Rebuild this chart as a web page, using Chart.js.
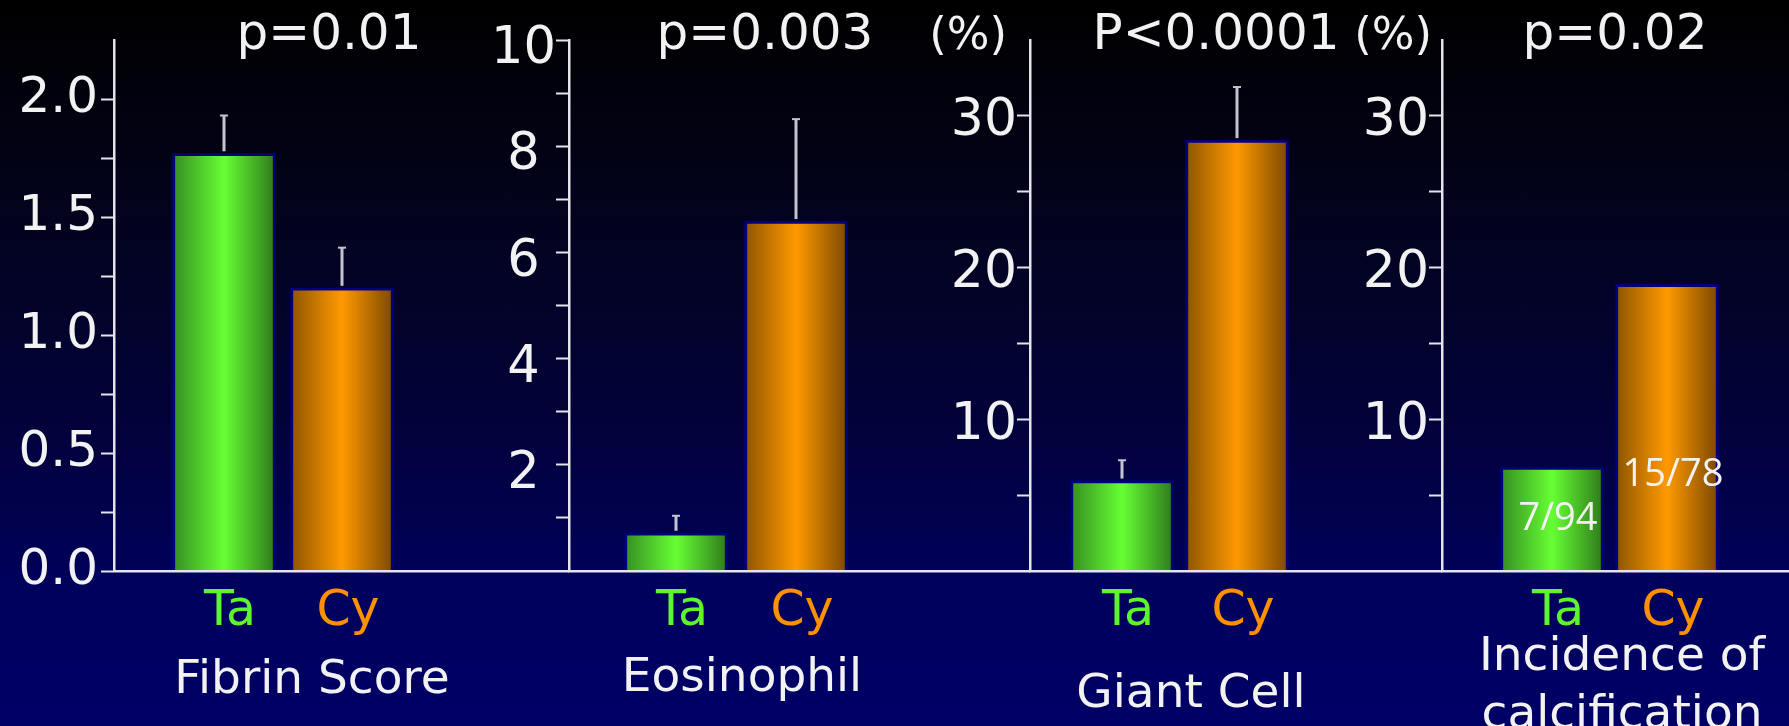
<!DOCTYPE html>
<html>
<head>
<meta charset="utf-8">
<script src="https://cdn.jsdelivr.net/npm/chart.js@4/dist/chart.umd.min.js"></script>
<style>
  html, body { margin: 0; padding: 0; }
  body {
    width: 1789px; height: 726px; overflow: hidden; position: relative;
    background: linear-gradient(180deg, #000000 0px, #010108 60px, #03031c 200px, #020236 400px, #000058 570px, #00005c 572px, #000066 726px);
  }
  .panel { position: absolute; top: 0; height: 726px; }
</style>
</head>
<body>
<div class="panel" id="p0"><canvas id="c0"></canvas></div>
<div class="panel" id="p1"><canvas id="c1"></canvas></div>
<div class="panel" id="p2"><canvas id="c2"></canvas></div>
<div class="panel" id="p3"><canvas id="c3"></canvas></div>
<script>
// data
const categories = ['Ta', 'Cy'];
const pValues = ['p=0.01', 'p=0.003', 'P<0.0001', 'p=0.02'];
const panelNames = [['Fibrin Score'], ['Eosinophil'], ['Giant Cell'], ['Incidence of', 'calcification']];

const fibrinValues = [1.77, 1.20];
const fibrinErrors = [1.93, 1.37];
const eosinophilValues = [0.72, 6.59];
const eosinophilErrors = [1.04, 8.51];
const giantCellValues = [5.96, 28.4];
const giantCellErrors = [7.3, 31.9];
const calcificationValues = [6.85, 18.9];
const calcificationCounts = ['7/94', '15/78'];

const fibrinTicks = [0, 0.25, 0.5, 0.75, 1.0, 1.25, 1.5, 1.75, 2.0];
const fibrinTickLabels = ['0.0', '', '0.5', '', '1.0', '', '1.5', '', '2.0'];
const eosinophilTicks = [1, 2, 3, 4, 5, 6, 7, 8, 9, 10];
const eosinophilTickLabels = ['', '2', '', '4', '', '6', '', '8', '', '10'];
const percentTicks = [5, 10, 15, 20, 25, 30];
const percentTickLabels = ['', '10', '', '20', '', '30'];
const axisMax = [2.25, 10, 35, 35];
const units = ['', '', '(%)', '(%)'];

const panelValues = [fibrinValues, eosinophilValues, giantCellValues, calcificationValues];
const panelErrors = [fibrinErrors, eosinophilErrors, giantCellErrors, null];
const panelCounts = [null, null, null, calcificationCounts];
const panelTicks = [fibrinTicks, eosinophilTicks, percentTicks, percentTicks];
const panelTickLabels = [fibrinTickLabels, eosinophilTickLabels, percentTickLabels, percentTickLabels];

// layout (pixels)
const axisX = [114, 569, 1030, 1442];
const axisRight = [569, 1030, 1442, 1789];
const labelRoom = [114, 110, 100, 100];
const firstBarOffset = [110, 107, 92, 110];
const barSpacing = [118, 120, 115, 115];
const tickFontSize = [50, 51, 52, 52];
const tickPadding = [3, 0, 0, 0];
const tickLabelOffset = [0, 10, 6, 6];
const tickAlign = ['near', 'center', 'near', 'near'];
const pOffset = [215, 196, 186, 173];
const captionOffset = [198, 173, 161, 180];
const captionBaseline = [693, 691, 707, 670];
const unitGap = [0, 0, 23, 10];
const countLift = [52, 96];

const WHITE = '#f2f2f2';
const AXIS = '#e4e4ea';
const FONT = "'DejaVu Sans', Verdana, sans-serif";
const GREEN = ['#358c22', '#66ff33', '#2e781b'];
const ORANGE = ['#8c5400', '#ff9900', '#7a4700'];
const labelColors = ['#5cf52e', '#ff9000'];

function barFill(c) {
    const chart = c.chart;
    const stops = c.dataIndex === 0 ? GREEN : ORANGE;
    if (!chart.chartArea) return stops[1];
    const x = chart.scales.x.getPixelForValue(c.dataIndex);
    const g = chart.ctx.createLinearGradient(x - 52, 0, x + 52, 0);
    g.addColorStop(0, stops[0]);
    g.addColorStop(0.5, stops[1]);
    g.addColorStop(1, stops[2]);
    return g;
}

function overlay(i) {
    return {
        id: 'overlay' + i,
        afterDatasetsDraw(chart) {
            const ctx = chart.ctx;
            const meta = chart.getDatasetMeta(0);
            const y = chart.scales.y;
            const errs = panelErrors[i];
            ctx.save();
            if (errs) {
                ctx.strokeStyle = '#c4c4d0';
                errs.forEach((e, k) => {
                    const bar = meta.data[k];
                    const yErr = y.getPixelForValue(e);
                    ctx.lineWidth = 3;
                    ctx.beginPath();
                    ctx.moveTo(bar.x, bar.y - 2);
                    ctx.lineTo(bar.x, yErr);
                    ctx.stroke();
                    ctx.lineWidth = 2;
                    ctx.beginPath();
                    ctx.moveTo(bar.x - 4, yErr);
                    ctx.lineTo(bar.x + 4, yErr);
                    ctx.stroke();
                });
            }
            const counts = panelCounts[i];
            if (counts) {
                ctx.fillStyle = WHITE;
                ctx.font = "38px 'Open Sans', sans-serif";
                ctx.textAlign = 'center';
                ctx.textBaseline = 'middle';
                counts.forEach((t, k) => {
                    const bar = meta.data[k];
                    ctx.fillText(t, bar.x + 6, chart.chartArea.bottom - countLift[k]);
                });
            }
            ctx.restore();
        },
        afterDraw(chart) {
            const ctx = chart.ctx;
            const left = chart.chartArea.left;
            ctx.save();
            ctx.fillStyle = WHITE;
            ctx.textBaseline = 'alphabetic';
            ctx.textAlign = 'center';
            ctx.font = '50px ' + FONT;
            ctx.fillText(pValues[i], left + pOffset[i], 49);
            if (units[i]) {
                ctx.textAlign = 'right';
                ctx.font = '45px ' + FONT;
                ctx.fillText(units[i], left - unitGap[i], 49);
            }
            ctx.textAlign = 'center';
            ctx.font = '47px ' + FONT;
            panelNames[i].forEach((line, k) => {
                ctx.fillText(line, left + captionOffset[i], captionBaseline[i] + k * 58);
            });
            ctx.restore();
        }
    };
}

function makePanel(i) {
    const wrap = document.getElementById('p' + i);
    const canvasLeft = axisX[i] - labelRoom[i];
    wrap.style.left = canvasLeft + 'px';
    wrap.style.width = (axisRight[i] - canvasLeft) + 'px';
    const plotWidth = axisRight[i] - axisX[i];
    const values = panelValues[i];

    new Chart(document.getElementById('c' + i), {
        type: 'bar',
        data: {
            datasets: [{
                data: values.map((v, k) => ({ x: k, y: v })),
                backgroundColor: barFill,
                borderColor: '#00007a',
                borderWidth: 3,
                barThickness: 103
            }]
        },
        options: {
            responsive: true,
            maintainAspectRatio: false,
            animation: false,
            layout: { padding: { top: 40, left: 0, right: 0, bottom: 0 } },
            plugins: { legend: { display: false }, tooltip: { enabled: false } },
            scales: {
                x: {
                    type: 'linear',
                    offset: false,
                    min: -firstBarOffset[i] / barSpacing[i],
                    max: (plotWidth - firstBarOffset[i]) / barSpacing[i],
                    afterBuildTicks: s => { s.ticks = categories.map((c, k) => ({ value: k })); },
                    afterFit: s => { s.height = 155; },
                    ticks: {
                        autoSkip: false,
                        maxRotation: 0,
                        padding: 12,
                        labelOffset: 6,
                        z: 1,
                        color: c => labelColors[c.index],
                        font: { family: FONT, size: 49 },
                        callback: (v, idx) => categories[idx]
                    },
                    grid: { display: false, drawTicks: false, offset: false },
                    border: { display: true, color: AXIS, width: 2.5, z: 1 }
                },
                y: {
                    min: 0,
                    max: axisMax[i],
                    afterBuildTicks: s => { s.ticks = panelTicks[i].map(v => ({ value: v })); },
                    afterFit: s => { s.width = labelRoom[i]; },
                    ticks: {
                        autoSkip: false,
                        color: WHITE,
                        padding: tickPadding[i],
                        labelOffset: tickLabelOffset[i],
                        crossAlign: tickAlign[i],
                        font: { family: FONT, size: tickFontSize[i] },
                        callback: (v, idx) => panelTickLabels[i][idx]
                    },
                    grid: {
                        drawOnChartArea: false,
                        drawTicks: true,
                        tickLength: 13,
                        tickWidth: 2,
                        tickColor: AXIS
                    },
                    border: { display: true, color: AXIS, width: 2.5 }
                }
            }
        },
        plugins: [overlay(i)]
    });
}

[0, 1, 2, 3].forEach(makePanel);
</script>
</body>
</html>
